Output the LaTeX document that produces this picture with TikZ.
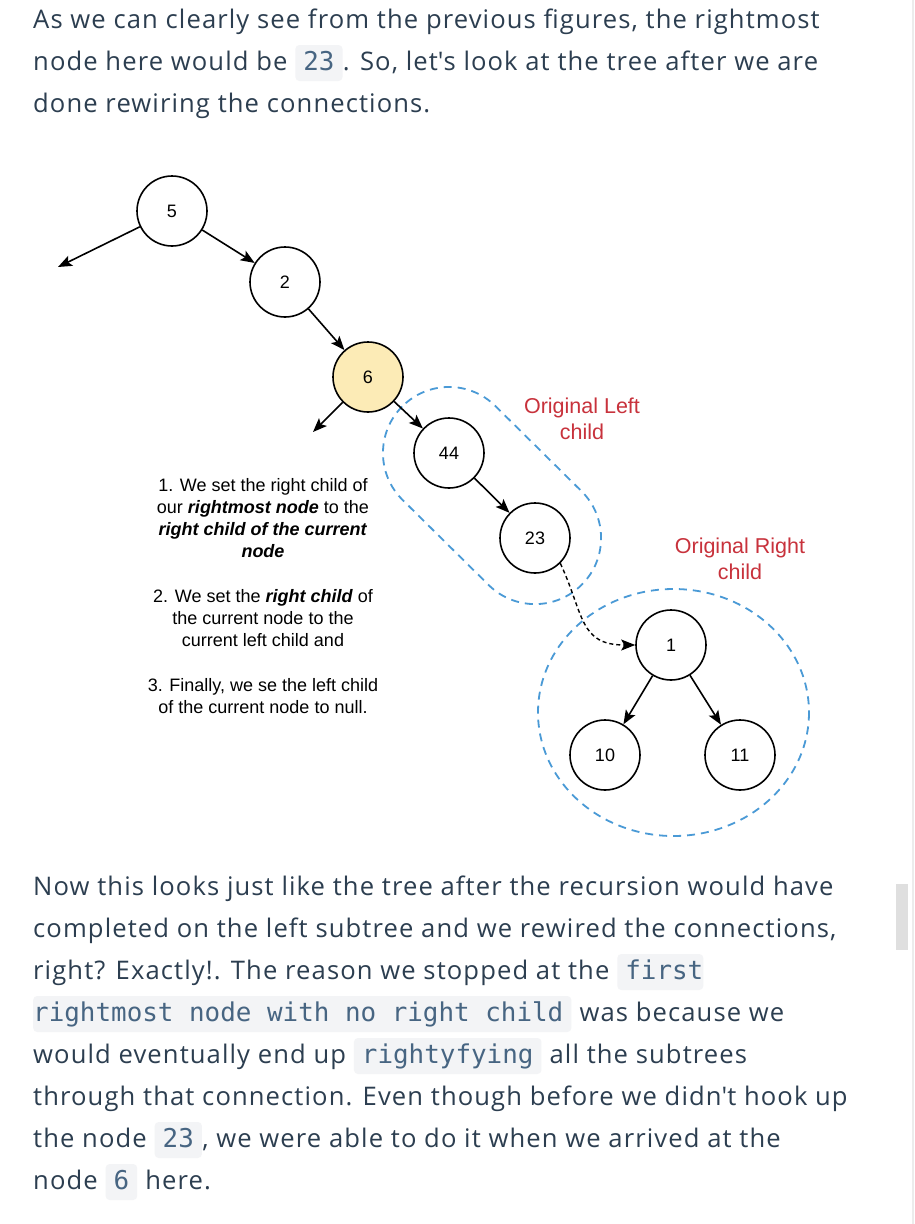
\documentclass[tikz,border=0pt]{standalone}
\usepackage{fontspec}
\setmainfont{Open Sans}[LetterSpace=4.3]
\newfontfamily\diagfont{Liberation Sans}
\newfontfamily\codefont{DejaVu Sans Mono}
\usetikzlibrary{arrows.meta,positioning}

\definecolor{bodytext}{HTML}{2C3E50}
\definecolor{codetext}{HTML}{476582}
\definecolor{codebg}{HTML}{F3F4F6}
\definecolor{curnode}{HTML}{FCEBB6}
\definecolor{groupline}{HTML}{4A9AD6}
\definecolor{grouplabel}{HTML}{C8323C}
\definecolor{scrolltrack}{HTML}{ECECEC}
\definecolor{scrollthumb}{HTML}{DFDFDF}

\tikzset{
  para/.style={anchor=base west, inner sep=0pt, text=bodytext,
               font=\fontsize{25.6}{42}\selectfont},
  code/.style={anchor=base west, inner xsep=8pt, inner ysep=0pt,
               text height=25pt, text depth=11pt, fill=codebg,
               rounded corners=4pt, text=codetext,
               font=\codefont\fontsize{25.9}{42}\selectfont},
  treenode/.style={circle, draw=black, line width=1.6pt, fill=white,
                   minimum size=70pt, inner sep=0pt,
                   font=\diagfont\fontsize{18}{18}\selectfont},
  edge/.style={-{Stealth[length=14pt,width=11pt,inset=3pt]}, line width=1.6pt},
  rewire/.style={edge, line width=1.4pt, dash pattern=on 4pt off 3pt},
  group/.style={draw=groupline, line width=1.8pt, dash pattern=on 8pt off 6pt},
  grouptext/.style={text=grouplabel, align=center,
                    font=\diagfont\fontsize{21.5}{26}\selectfont},
  steptext/.style={align=center, text=black,
                   font=\diagfont\fontsize{18}{22}\selectfont},
}

\begin{document}
\begin{tikzpicture}[x=1pt,y=-1pt]
  \useasboundingbox[fill=white] (0,0) rectangle (914,1224);

  % scrollbar
  \fill[scrolltrack] (912,0) rectangle (914,1224);
  \fill[scrollthumb] (896,884) rectangle (908,950);

  % text above the figure
  \node[para] (p1) at (33,28) {As we can clearly see from the previous figures, the rightmost};
  \node[para] (p2a) at (33,70) {node here would be};
  \node[code] (p2b) at ([xshift=7.5pt]p2a.base east) {23};
  \node[para] (p2c) at (p2b.base east) {. So, let\textquotesingle s look at the tree after we are};
  \node[para] (p3) at (33,112) {done rewiring the connections.};

  % groups
  \begin{scope}[shift={(449,453)}, rotate=-44.67]
    \draw[group, rounded corners=65.9pt] (-66,-66) rectangle (187,66);
  \end{scope}
  \draw[group] (673.5,712.5) ellipse [x radius=135.5, y radius=123.5];

  % the tree
  \node[treenode]               (n5)  at (172,211) {5};
  \node[treenode]               (n2)  at (285,282) {2};
  \node[treenode, fill=curnode] (n6)  at (368,377) {6};
  \node[treenode]               (n44) at (449,453) {44};
  \node[treenode]               (n23) at (535,538) {23};
  \node[treenode]               (n1)  at (671,645) {1};
  \node[treenode]               (n10) at (605,755) {10};
  \node[treenode]               (n11) at (740,755) {11};
  \coordinate (l5) at (58,267);
  \coordinate (l6) at (313,432);

  \draw[edge] (n5) -- (l5);
  \draw[edge] (n5) -- (n2);
  \draw[edge] (n2) -- (n6);
  \draw[edge] (n6) -- (l6);
  \draw[edge] (n6) -- (n44);
  \draw[edge] (n44) -- (n23);
  \draw[edge] (n1) -- (n10);
  \draw[edge] (n1) -- (n11);
  \draw[rewire] (n23.-45) to[out=-65, in=180, looseness=1.3] (n1.west);

  % labels
  \node[grouptext] (leftlbl)  at (582,419) {Original Left\\child};
  \node[grouptext] (rightlbl) at (740,559) {Original Right\\child};
  \node[steptext] (s1) at (263,518) {1. We set the right child of\\
    our \textbf{\textit{rightmost node}} to the\\
    \textbf{\textit{right child of the current}}\\
    \textbf{\textit{node}}};
  \node[steptext] (s2) at (263,618) {2. We set the \textbf{\textit{right child}} of\\
    the current node to the\\current left child and};
  \node[steptext] (s3) at (263,696) {3. Finally, we se the left child\\
    of the current node to null.};

  % text below the figure
  \node[para] (q1) at (33,895) {Now this looks just like the tree after the recursion would have};
  \node[para] (q2) at (33,937) {completed on the left subtree and we rewired the connections,};
  \node[para] (q3a) at (33,979) {right? Exactly!. The reason we stopped at the};
  \node[code, inner xsep=0pt] (q3b) at ([xshift=7.5pt]q3a.base east) {\hspace*{8pt}first};
  \node[code, inner xsep=0pt] (q4a) at (33,1021) {rightmost node with no right child\hspace*{8pt}};
  \node[para] (q4b) at (q4a.base east) {\ was because we};
  \node[para] (q5a) at (33,1063) {would eventually end up};
  \node[code] (q5b) at ([xshift=7.5pt]q5a.base east) {rightyfying};
  \node[para] (q5c) at (q5b.base east) {\ all the subtrees};
  \node[para] (q6) at (33,1105) {through that connection. Even though before we didn\textquotesingle t hook up};
  \node[para] (q7a) at (33,1147) {the node};
  \node[code] (q7b) at ([xshift=7.5pt]q7a.base east) {23};
  \node[para] (q7c) at (q7b.base east) {, we were able to do it when we arrived at the};
  \node[para] (q8a) at (33,1189) {node};
  \node[code] (q8b) at ([xshift=7.5pt]q8a.base east) {6};
  \node[para] (q8c) at (q8b.base east) {\ here.};
\end{tikzpicture}
\end{document}
